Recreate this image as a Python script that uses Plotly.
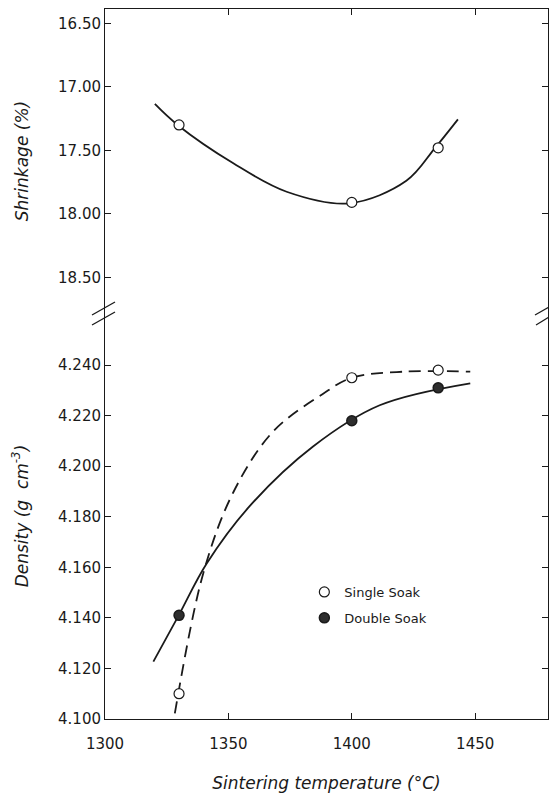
import plotly.graph_objects as go

# ---------------- data ----------------
temps = [1330, 1400, 1435]
shrinkage = [17.30, 17.91, 17.48]
shrink_curve_x = [1320.2, 1329.4, 1352, 1373.6, 1399, 1422.1, 1433.6, 1443]
shrink_curve_y = [17.135, 17.30, 17.602, 17.826, 17.917, 17.74, 17.484, 17.256]

density_single = [4.110, 4.235, 4.238]
density_double = [4.141, 4.218, 4.231]
single_curve_x = [1328.3, 1339.8, 1351.9, 1368.1, 1388.4, 1400, 1421, 1448]
single_curve_y = [4.1022, 4.1576, 4.1895, 4.2137, 4.2287, 4.2350, 4.2374, 4.2374]
double_curve_x = [1319.6, 1329.7, 1341.2, 1358.7, 1384.3, 1411.3, 1448]
double_curve_y = [4.1227, 4.1407, 4.1615, 4.1843, 4.2078, 4.2241, 4.2328]

x_ticks = [1300, 1350, 1400, 1450]
shrink_ticks = [16.50, 17.00, 17.50, 18.00, 18.50]
density_ticks = [4.100, 4.120, 4.140, 4.160, 4.180, 4.200, 4.220, 4.240]

FONT = "DejaVu Sans"
INK = "#1a1a1a"
SMOOTH = 1.0

fig = go.Figure()

# top panel: shrinkage
fig.add_trace(go.Scatter(x=shrink_curve_x, y=shrink_curve_y, mode="lines",
                         line=dict(color=INK, width=1.8, shape="spline", smoothing=SMOOTH),
                         showlegend=False, hoverinfo="skip", xaxis="x2", yaxis="y2"))
fig.add_trace(go.Scatter(x=temps, y=shrinkage, mode="markers",
                         marker=dict(symbol="circle", size=10, color="white",
                                     line=dict(color=INK, width=1.2)),
                         showlegend=False, xaxis="x2", yaxis="y2"))

# bottom panel: density
fig.add_trace(go.Scatter(x=single_curve_x, y=single_curve_y, mode="lines",
                         line=dict(color=INK, width=1.8, dash="12px,7px", shape="spline", smoothing=SMOOTH),
                         showlegend=False, hoverinfo="skip"))
fig.add_trace(go.Scatter(x=double_curve_x, y=double_curve_y, mode="lines",
                         line=dict(color=INK, width=1.8, shape="spline", smoothing=SMOOTH),
                         showlegend=False, hoverinfo="skip"))
fig.add_trace(go.Scatter(x=temps, y=density_single, mode="markers", name="Single Soak",
                         legendgroup="a",
                         marker=dict(symbol="circle", size=10, color="white",
                                     line=dict(color=INK, width=1.2))))
fig.add_trace(go.Scatter(x=temps, y=density_double, mode="markers", name="Double Soak",
                         legendgroup="b",
                         marker=dict(symbol="circle", size=10, color="#2e2e2e",
                                     line=dict(color=INK, width=1.5))))

SPLIT = 0.5718
axis_common = dict(showline=True, linecolor=INK, linewidth=1, ticks="inside",
                   ticklen=6, tickcolor=INK, tickwidth=1, showgrid=False, zeroline=False,
                   tickfont=dict(family=FONT, size=15, color=INK))

fig.update_layout(
    width=549, height=796,
    margin=dict(l=105, r=1, t=9, b=77),
    paper_bgcolor="white", plot_bgcolor="white",
    font=dict(family=FONT, color=INK),
    xaxis=dict(**axis_common, domain=[0, 1], range=[1300, 1479.5], anchor="y",
               tickvals=x_ticks, ticklabelstandoff=11,
               title=dict(text="<i>Sintering temperature (°C)</i>",
                          font=dict(family=FONT, size=17, color=INK), standoff=25)),
    yaxis=dict(**axis_common, domain=[0, SPLIT], range=[4.100, 4.2606], anchor="x",
               mirror="ticks", tickvals=density_ticks, tickformat=".3f",
               title=dict(text="<i>Density (g  cm<sup>-3</sup>)</i>",
                          font=dict(family=FONT, size=17, color=INK), standoff=25)),
    xaxis2=dict(**axis_common, domain=[0, 1], range=[1300, 1479.5], anchor="y2",
                side="top", tickvals=x_ticks, showticklabels=False),
    yaxis2=dict(**axis_common, domain=[SPLIT, 1], range=[18.781, 16.387], anchor="x2",
                mirror="ticks", tickvals=shrink_ticks, tickformat=".2f",
                title=dict(text="<i>Shrinkage (%)</i>",
                           font=dict(family=FONT, size=17, color=INK), standoff=25)),
    legend=dict(x=0.45, y=0.20, xanchor="left", yanchor="top",
                bgcolor="rgba(0,0,0,0)", font=dict(family=FONT, size=13, color=INK),
                traceorder="grouped", tracegroupgap=6, itemwidth=30),
)

# axis break marks (//) on both sides
W, H = 443.0, 710.0
def px(xp, yp):
    return (xp - 105) / W, (719 - yp) / H

for (x0, y0, x1, y1) in [(92, 315, 115, 302), (92, 325, 115, 312),
                         (535, 315, 549, 307), (536, 325, 549, 317)]:
    a, b = px(x0, y0)
    c, d = px(x1, y1)
    fig.add_shape(type="line", xref="paper", yref="paper", x0=a, y0=b, x1=c, y1=d,
                  line=dict(color=INK, width=1.3))

fig.write_html("out.html", config={"displayModeBar": False},
               post_script="document.body.style.margin='0';document.body.style.overflow='hidden';")
